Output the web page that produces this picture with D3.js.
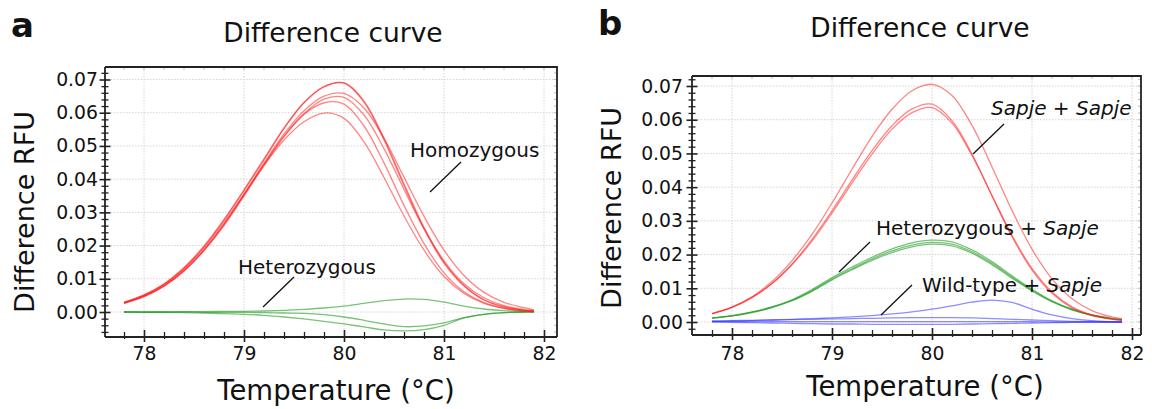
<!DOCTYPE html>
<html><head><meta charset="utf-8">
<script src="https://cdn.jsdelivr.net/npm/d3@7"></script>
<style>body{margin:0;background:#fff} text{font-family:"DejaVu Sans",Verdana,sans-serif;fill:#111}</style>
</head><body><svg id="c" width="1152" height="409"></svg>
<script>
// ---------- data ----------
const temps = [77.8,78.0,78.2,78.4,78.6,78.8,79.0,79.2,79.4,79.6,79.8,80.0,80.2,80.4,80.6,80.8,81.0,81.2,81.4,81.6,81.8,81.9];
const xTicks = [78,79,80,81,82];
const xTickLabels = ["78","79","80","81","82"];
const yTicks = [0,0.01,0.02,0.03,0.04,0.05,0.06,0.07];
const yTickLabels = ["0.00","0.01","0.02","0.03","0.04","0.05","0.06","0.07"];

// panel a — homozygous (red)
const aHomo1 = [.0028,.0050,.0083,.0131,.0196,.0276,.0365,.0458,.0552,.0630,.0678,.0690,.0635,.0523,.0386,.0255,.0150,.0080,.0037,.0016,.0005,.0002];
const aHomo2 = [.0030,.0052,.0085,.0134,.0199,.0279,.0368,.0461,.0554,.0631,.0679,.0689,.0632,.0518,.0380,.0250,.0147,.0078,.0036,.0015,.0005,.0002];
const aHomo3 = [.0027,.0048,.0079,.0125,.0187,.0264,.0354,.0448,.0536,.0606,.0650,.0658,.0614,.0523,.0406,.0288,.0186,.0110,.0059,.0029,.0013,.0006];
const aHomo4 = [.0027,.0047,.0078,.0123,.0185,.0260,.0349,.0441,.0528,.0597,.0641,.0646,.0593,.0492,.0369,.0251,.0154,.0085,.0043,.0019,.0008,.0004];
const aHomo5 = [.0026,.0046,.0078,.0124,.0186,.0264,.0353,.0445,.0530,.0595,.0630,.0626,.0560,.0449,.0321,.0206,.0118,.0061,.0028,.0011,.0004,.0002];
const aHomo6 = [.0028,.0050,.0083,.0130,.0193,.0270,.0355,.0442,.0518,.0573,.0599,.0583,.0512,.0405,.0289,.0186,.0107,.0056,.0026,.0011,.0004,.0002];
// panel a — heterozygous (green)
const aHet1 = [0,0,0,.0001,.0001,.0002,.0002,.0003,.0005,.0008,.0012,.0018,.0026,.0034,.0039,.0038,.0030,.0018,.0009,.0004,.0001,0];
const aHet2 = [0,-.0001,-.0001,-.0002,-.0003,-.0005,-.0007,-.0010,-.0015,-.0021,-.0028,-.0036,-.0045,-.0054,-.0057,-.0053,-.0040,-.0018,-.0007,-.0002,0,0];
const aHet3 = [0,0,0,0,-.0001,-.0001,-.0001,-.0002,-.0003,-.0004,-.0008,-.0015,-.0025,-.0036,-.0044,-.0042,-.0033,-.0017,-.0007,-.0002,0,0];

// panel b — Sapje + Sapje (red)
const bSapje1 = [.0025,.0044,.0075,.0120,.0182,.0260,.0353,.0453,.0550,.0631,.0686,.0705,.0672,.0583,.0460,.0331,.0216,.0128,.0069,.0034,.0015,.0010];
const bSapje2 = [.0024,.0043,.0072,.0114,.0172,.0245,.0330,.0421,.0508,.0582,.0632,.0646,.0597,.0498,.0374,.0253,.0154,.0085,.0042,.0019,.0008,.0005];
const bSapje3 = [.0025,.0044,.0073,.0114,.0170,.0240,.0323,.0412,.0498,.0572,.0621,.0636,.0590,.0494,.0375,.0257,.0159,.0089,.0045,.0021,.0009,.0005];
// panel b — Heterozygous + Sapje (green)
const bHet1 = [.0012,.0019,.0030,.0045,.0066,.0096,.0132,.0163,.0192,.0217,.0235,.0243,.0238,.0214,.0179,.0137,.0097,.0063,.0038,.0021,.0011,.0007];
const bHet2 = [.0012,.0018,.0029,.0044,.0064,.0093,.0128,.0158,.0187,.0211,.0228,.0236,.0231,.0208,.0174,.0133,.0094,.0061,.0037,.0020,.0010,.0007];
const bHet3 = [.0011,.0018,.0028,.0043,.0063,.0091,.0125,.0155,.0183,.0206,.0223,.0231,.0226,.0204,.0170,.0130,.0092,.0060,.0036,.0020,.0010,.0007];
// panel b — Wild-type + Sapje (blue)
const bWild1 = [.0002,.0003,.0004,.0006,.0008,.0010,.0012,.0015,.0019,.0024,.0030,.0038,.0048,.0059,.0065,.0058,.0038,.0021,.0010,.0004,.0001,0];
const bWild2 = [.0003,.0004,.0005,.0006,.0007,.0008,.0009,.0010,.0011,.0012,.0013,.0013,.0013,.0012,.0010,.0008,.0006,.0004,.0002,.0001,0,0];
const bWild3 = [0,-.0001,-.0002,-.0003,-.0004,-.0005,-.0006,-.0006,-.0007,-.0007,-.0007,-.0007,-.0007,-.0006,-.0005,-.0004,-.0003,-.0002,-.0001,0,0,0];
const bWild4 = [.0001,.0001,.0001,.0001,.0001,.0001,.0001,.0001,.0001,.0001,.0001,.0001,.0001,.0001,.0001,.0001,.0001,0,0,0,0,0];

// ---------- drawing ----------
const svg = d3.select("#c");
const RED = "#ff2020", GREEN = "#1f9a1f", BLUE = "#3030ff";

function panel(cfg){
  const {frame, xr, yr, id} = cfg;
  const x = d3.scaleLinear().domain([78,82]).range(xr);
  const y = d3.scaleLinear().domain([0,0.07]).range(yr);
  const g = svg.append("g");
  const xMin = x.invert(frame.l), xMax = x.invert(frame.r);
  const yMin = y.invert(frame.b), yMax = y.invert(frame.t);
  const minorX = d3.range(77.0, 82.01, 0.2).map(v=>+v.toFixed(1)).filter(v=>v>=xMin && v<=xMax && !xTicks.includes(v));
  const minorY = d3.range(-0.01, 0.0801, 0.002).map(v=>+v.toFixed(3)).filter(v=>v>=yMin && v<=yMax && Math.abs(v*100-Math.round(v*100))>1e-6);

  // grid
  const grid = g.append("g").attr("stroke","#d4d4d4").attr("stroke-width",1).attr("stroke-dasharray","1.5,1.5");
  xTicks.forEach(t=>grid.append("line").attr("x1",x(t)).attr("x2",x(t)).attr("y1",frame.t).attr("y2",frame.b));
  yTicks.forEach(t=>grid.append("line").attr("x1",frame.l).attr("x2",frame.r).attr("y1",y(t)).attr("y2",y(t)));
  // light inner ticks on top and right
  const inner = g.append("g").attr("stroke","#bdbdbd").attr("stroke-width",1);
  minorX.concat(xTicks).forEach(t=>inner.append("line").attr("x1",x(t)).attr("x2",x(t)).attr("y1",frame.t).attr("y2",frame.t+3));
  minorY.concat(yTicks).forEach(t=>inner.append("line").attr("x1",frame.r-3).attr("x2",frame.r).attr("y1",y(t)).attr("y2",y(t)));

  // curves
  g.append("clipPath").attr("id","clip"+id).append("rect")
    .attr("x",frame.l).attr("y",frame.t).attr("width",frame.r-frame.l).attr("height",frame.b-frame.t);
  const line = d3.line().x(d=>x(d[0])).y(d=>y(d[1])).curve(d3.curveCatmullRom.alpha(0.5));
  const cg = g.append("g").attr("clip-path","url(#clip"+id+")");
  cfg.series.forEach(s=>{
    s.data.forEach(arr=>{
      cg.append("path").attr("d", line(temps.map((t,i)=>[t,arr[i]])))
        .attr("fill","none").attr("stroke",s.color).attr("stroke-width",1.3).attr("stroke-opacity",s.op);
    });
  });

  // frame top/right
  g.append("path").attr("d",`M${frame.l},${frame.t}H${frame.r}V${frame.b}`).attr("fill","none").attr("stroke","#222").attr("stroke-width",1.8);

  // y axis
  const ya = g.append("g").attr("transform",`translate(${frame.l},0)`)
    .call(d3.axisLeft(y).tickValues(yTicks).tickFormat((d,i)=>yTickLabels[i]).tickSize(0).tickPadding(cfg.ypad));
  ya.select(".domain").remove();
  ya.selectAll(".tick text").attr("font-size",18.8).attr("font-family","DejaVu Sans").attr("fill","#111");
  const ym = g.append("g").attr("transform",`translate(${frame.l},0)`)
    .call(d3.axisLeft(y).tickValues(minorY).tickFormat("").tickSize(0));
  ym.select(".domain").remove();
  ym.selectAll(".tick line").attr("x1",-3.5).attr("x2",3.5).attr("stroke","#222").attr("stroke-width",1.3);
  ya.selectAll(".tick line").attr("x1",-5.5).attr("x2",5.5).attr("stroke","#222").attr("stroke-width",1.6);
  g.append("line").attr("x1",frame.l).attr("x2",frame.l).attr("y1",frame.t).attr("y2",frame.b).attr("stroke","#222").attr("stroke-width",1.8);

  // x axis
  const xa = g.append("g").attr("transform",`translate(0,${frame.b})`)
    .call(d3.axisBottom(x).tickValues(xTicks).tickFormat((d,i)=>xTickLabels[i]).tickSize(0).tickPadding(cfg.xpad));
  xa.select(".domain").remove();
  xa.selectAll(".tick text").attr("font-size",18.8).attr("font-family","DejaVu Sans").attr("fill","#111");
  xa.selectAll(".tick line").attr("y1",-7).attr("y2",5).attr("stroke","#222").attr("stroke-width",1.6);
  const xm = g.append("g").attr("transform",`translate(0,${frame.b})`)
    .call(d3.axisBottom(x).tickValues(minorX).tickFormat("").tickSize(0));
  xm.select(".domain").remove();
  xm.selectAll(".tick line").attr("y1",-5).attr("y2",2).attr("stroke","#222").attr("stroke-width",1.3);
  g.append("line").attr("x1",frame.l).attr("x2",frame.r).attr("y1",frame.b).attr("y2",frame.b).attr("stroke","#222").attr("stroke-width",1.8);

  // titles
  g.append("text").attr("x",cfg.title[0]).attr("y",cfg.title[1]).attr("text-anchor","middle").attr("font-size",26.5).text("Difference curve");
  g.append("text").attr("x",cfg.letter[0]).attr("y",cfg.letter[1]).attr("font-size",34).attr("font-weight","bold").text(cfg.letterText);
  g.append("text").attr("x",cfg.xlab[0]).attr("y",cfg.xlab[1]).attr("text-anchor","middle").attr("font-size",27.5).text("Temperature (°C)");
  g.append("text").attr("transform",`translate(${cfg.ylab[0]},${cfg.ylab[1]}) rotate(-90)`).attr("text-anchor","middle").attr("font-size",27).text("Difference RFU");

  // annotations
  cfg.notes.forEach(n=>{
    const t = g.append("text").attr("x",n.x).attr("y",n.y).attr("font-size",20);
    n.parts.forEach(p=>t.append("tspan").attr("font-style",p[1]?"italic":"normal").text(p[0]));
    g.append("line").attr("x1",n.l[0]).attr("y1",n.l[1]).attr("x2",n.l[2]).attr("y2",n.l[3]).attr("stroke","#111").attr("stroke-width",1.3);
  });
}

panel({
  id:"a", frame:{l:105,r:557,t:67,b:337}, xr:[144,544], yr:[312,79.5], ypad:7, xpad:10,
  series:[
    {data:[aHet1,aHet2,aHet3], color:GREEN, op:0.6},
    {data:[aHomo1,aHomo2,aHomo3,aHomo4,aHomo5,aHomo6], color:RED, op:0.55}
  ],
  title:[333,41.5], letter:[11,37], letterText:"a", xlab:[336,400], ylab:[34,212],
  notes:[
    {x:410, y:157, parts:[["Homozygous",false]], l:[461,162,430,192]},
    {x:238, y:274, parts:[["Heterozygous",false]], l:[294,277,263,307]}
  ]
});
panel({
  id:"b", frame:{l:692,r:1141,t:76,b:335}, xr:[732,1132], yr:[322,86], ypad:9, xpad:11.5,
  series:[
    {data:[bWild1,bWild2,bWild3,bWild4], color:BLUE, op:0.55},
    {data:[bHet1,bHet2,bHet3], color:GREEN, op:0.6},
    {data:[bSapje1,bSapje2,bSapje3], color:RED, op:0.55}
  ],
  title:[920,36.5], letter:[598,35], letterText:"b", xlab:[925,396], ylab:[621,208],
  notes:[
    {x:991, y:115, parts:[["Sapje",true],[" + ",false],["Sapje",true]], l:[1004,124,973,154]},
    {x:876, y:235, parts:[["Heterozygous + ",false],["Sapje",true]], l:[870,242,839,272]},
    {x:922, y:292, parts:[["Wild-type + ",false],["Sapje",true]], l:[912,285,881,315]}
  ]
});
</script></body></html>
